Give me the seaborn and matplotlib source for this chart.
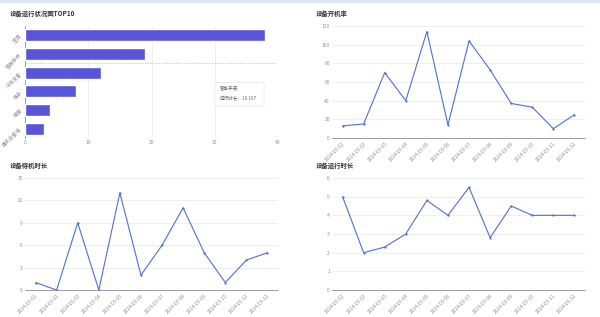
import matplotlib
matplotlib.use("Agg")
import matplotlib.pyplot as plt
import seaborn as sns
import pandas as pd
from matplotlib.patches import FancyBboxPatch

sns.set_theme(style="white")
plt.rcParams['font.family'] = ['Noto Sans CJK SC', 'DejaVu Sans']

# data
device_names = ["空调", "智能手表", "冷链设备", "电子", "电视", "通讯设备组"]
device_hours = [38, 19, 12, 8, 4, 3]
dates = [f"2024-03-{d:02d}" for d in range(1, 13)]
boot_rate = [13, 15, 70, 40, 114, 14, 104, 73, 37, 33, 10, 25]
standby_hours = [1, 0, 9, 0, 13, 2, 6, 11, 5, 1, 4, 5]
run_hours = [5, 2, 2.3, 3, 4.8, 4, 5.5, 2.8, 4.5, 4, 4, 4]

W, H = 600, 317
fig = plt.figure(figsize=(W / 100, H / 100), dpi=100)
fig.patch.set_facecolor("white")

def px_axes(l, t, r, b):
    return fig.add_axes([l / W, 1 - b / H, (r - l) / W, (b - t) / H])

grid_c = "#e6e9f0"
axis_c = "#8a8d96"
tick_c = "#8f929a"
line_c = "#4f6fd6"
bar_c = "#5855d8"
title_fs = 4.6

def style_common(ax):
    for s in ["top", "right"]:
        ax.spines[s].set_visible(False)
    ax.tick_params(labelsize=3.6, colors=tick_c, length=1.5, width=0.5, pad=1.5)
    ax.set_xlabel("")
    ax.set_ylabel("")

# top-left: bar chart
ax1 = px_axes(25, 26, 278, 138)
bar_df = pd.DataFrame({"name": device_names, "hours": device_hours})
sns.barplot(data=bar_df, x="hours", y="name", orient="h", color=bar_c,
            saturation=1, width=0.66, ax=ax1, zorder=3)
ax1.set_xlim(0, 40)
ax1.set_xticks([0, 10, 20, 30, 40])
ax1.xaxis.grid(True, color=grid_c, linewidth=0.5)
ax1.set_axisbelow(True)
style_common(ax1)
ax1.spines["bottom"].set_visible(False)
ax1.spines["left"].set_color(axis_c)
ax1.spines["left"].set_linewidth(0.6)
ax1.tick_params(axis="x", length=0)
for lab in ax1.get_yticklabels():
    lab.set_rotation(45)
    lab.set_fontsize(3.6)
    lab.set_ha("right")
    lab.set_rotation_mode("anchor")
ax1.axhline(1.5, color="#b5b8c0", linestyle=(0, (2, 2)), linewidth=0.5, zorder=4)
ax1.text(-0.06, 1.115, "设备运行状况图TOP10", transform=ax1.transAxes,
         fontsize=title_fs, fontweight="bold", color="#333333", ha="left", va="center")
box = FancyBboxPatch((0.755, 0.29), 0.185, 0.2, transform=ax1.transAxes,
                     boxstyle="round,pad=0.005,rounding_size=0.01",
                     facecolor="white", edgecolor="#e4e4e4", linewidth=0.5, zorder=6)
ax1.add_patch(box)
ax1.text(0.77, 0.44, "智能手表", transform=ax1.transAxes, fontsize=3.3,
         color="#666666", va="center", zorder=7)
ax1.text(0.77, 0.35, "运行时长：19.167", transform=ax1.transAxes, fontsize=3.3,
         color="#666666", va="center", zorder=7)

def line_chart(ax, values, ymax, step, title):
    df = pd.DataFrame({"date": dates, "v": values})
    sns.lineplot(data=df, x="date", y="v", ax=ax, color=line_c, linewidth=0.8,
                 marker="o", markersize=1.6, markeredgewidth=0, sort=False)
    ax.set_xlim(-0.5, 11.5)
    ax.set_ylim(0, ymax)
    ax.set_yticks(range(0, ymax + 1, step))
    ax.yaxis.grid(True, color=grid_c, linewidth=0.5)
    ax.set_axisbelow(True)
    style_common(ax)
    ax.spines["left"].set_visible(False)
    ax.spines["bottom"].set_color(axis_c)
    ax.spines["bottom"].set_linewidth(0.6)
    ax.tick_params(axis="y", length=0)
    ax.set_xticks([x - 0.5 for x in range(13)], minor=True)
    ax.tick_params(axis="x", which="minor", length=1.5, width=0.5, colors=axis_c)
    ax.tick_params(axis="x", which="major", length=0, pad=2)
    for lab in ax.get_xticklabels():
        lab.set_rotation(45)
        lab.set_ha("right")
        lab.set_rotation_mode("anchor")
    ax.text(-0.065, 1.115, title, transform=ax.transAxes, fontsize=title_fs,
            fontweight="bold", color="#333333", ha="left", va="center")

ax2 = px_axes(332, 26, 585, 138)
line_chart(ax2, boot_rate, 120, 20, "设备开机率")

ax3 = px_axes(25, 178, 278, 290)
line_chart(ax3, standby_hours, 15, 3, "设备待机时长")
ax3.texts[-1].set_x(-0.06)

ax4 = px_axes(332, 178, 585, 290)
line_chart(ax4, run_hours, 6, 1, "设备运行时长")

# thin top border
fig.add_artist(plt.Line2D([0, 1], [1 - 1 / H, 1 - 1 / H], transform=fig.transFigure,
                          color="#dbe5f7", linewidth=2))

fig.savefig("out.png", dpi=100)
